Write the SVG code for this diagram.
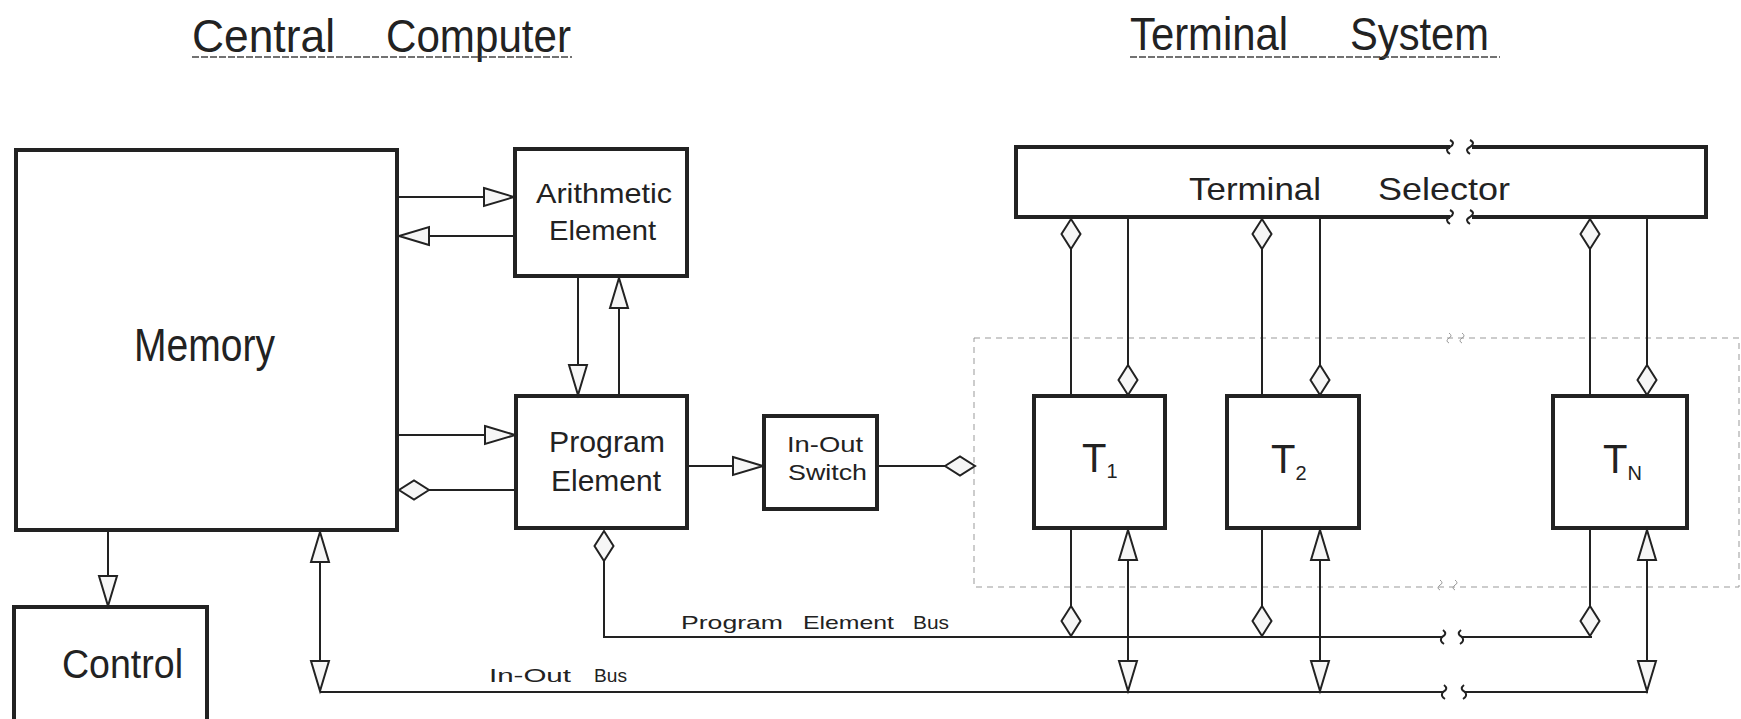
<svg xmlns="http://www.w3.org/2000/svg" width="1741" height="719" viewBox="0 0 1741 719">
<style>
.box{fill:#fff;stroke:#222;stroke-width:4}
.sel{fill:none;stroke:#222;stroke-width:4}
.ln{fill:none;stroke:#222;stroke-width:2}
.tx{font-family:"Liberation Sans",Arial,sans-serif;fill:#222}
.ul{stroke:#444;stroke-width:1.6;stroke-dasharray:7 2}
.dot{fill:none;stroke:#999;stroke-width:1;stroke-dasharray:6 5}
.brk{fill:none;stroke:#999;stroke-width:1}
.a-end{marker-end:url(#tri)}
.a-both{marker-start:url(#tri);marker-end:url(#tri)}
.d-end{marker-end:url(#dia)}
.d-start{marker-start:url(#dia)}
</style>
<defs>
<marker id="tri" markerUnits="userSpaceOnUse" viewBox="0 0 30 18" refX="30" refY="9" markerWidth="30" markerHeight="18" orient="auto-start-reverse" overflow="visible">
<path d="M0,0 L30,9 L0,18 Z" fill="#f6f6f6" stroke="#222" stroke-width="2"/>
</marker>
<marker id="dia" markerUnits="userSpaceOnUse" viewBox="0 0 30 19" refX="30" refY="9.5" markerWidth="30" markerHeight="19" orient="auto-start-reverse" overflow="visible">
<path d="M0,9.5 L15,0 L30,9.5 L15,19 Z" fill="#f6f6f6" stroke="#222" stroke-width="2"/>
</marker>
</defs>
<rect width="1741" height="719" fill="#fff"/>

<g id="titles">
<text class="tx" y="52" font-size="46"><tspan x="192" textLength="143" lengthAdjust="spacingAndGlyphs">Central</tspan><tspan x="386" textLength="185" lengthAdjust="spacingAndGlyphs">Computer</tspan></text>
<line class="ul" x1="192" y1="57" x2="572" y2="57"/>
<text class="tx" y="50" font-size="46"><tspan x="1130" textLength="158" lengthAdjust="spacingAndGlyphs">Terminal</tspan><tspan x="1350" textLength="139" lengthAdjust="spacingAndGlyphs">System</tspan></text>
<line class="ul" x1="1130" y1="57" x2="1500" y2="57"/>
</g>

<g id="terminal-area">
<rect class="dot" x="974" y="338" width="765" height="249"/>
<path class="brk" d="M1449,333 q4,3 0,5 q-4,3 0,5 M1462,333 q4,3 0,5 q-4,3 0,5"/>
<path class="brk" d="M1440,580 q4,3 0,5 q-4,3 0,5 M1455,580 q4,3 0,5 q-4,3 0,5"/>
</g>

<g id="memory">
<rect class="box" x="16" y="150" width="381" height="380"/>
<text class="tx" x="134" y="361" font-size="46" textLength="141" lengthAdjust="spacingAndGlyphs">Memory</text>
</g>

<g id="arithmetic">
<rect class="box" x="515" y="149" width="172" height="127"/>
<text class="tx" x="536" y="203" font-size="28" textLength="136" lengthAdjust="spacingAndGlyphs">Arithmetic</text>
<text class="tx" x="549" y="240" font-size="28" textLength="107" lengthAdjust="spacingAndGlyphs">Element</text>
</g>

<g id="program">
<rect class="box" x="516" y="396" width="171" height="132"/>
<text class="tx" x="549" y="452" font-size="30" textLength="116" lengthAdjust="spacingAndGlyphs">Program</text>
<text class="tx" x="551" y="491" font-size="30" textLength="110" lengthAdjust="spacingAndGlyphs">Element</text>
</g>

<g id="control">
<rect class="box" x="14" y="607" width="193" height="116"/>
<text class="tx" x="62" y="678" font-size="40" textLength="121" lengthAdjust="spacingAndGlyphs">Control</text>
</g>

<g id="inout-switch">
<rect class="box" x="764" y="416" width="113" height="93"/>
<text class="tx" x="787" y="452" font-size="22" textLength="76" lengthAdjust="spacingAndGlyphs">In-Out</text>
<text class="tx" x="788" y="480" font-size="22" textLength="79" lengthAdjust="spacingAndGlyphs">Switch</text>
</g>

<g id="terminal-selector">
<path class="sel" d="M1450,147 H1016 V217 H1450 M1472,147 H1706 V217 H1472"/>
<path class="ln" d="M1450,140 q6,3 0,7 q-6,3 0,7 M1470,140 q6,3 0,7 q-6,3 0,7 M1450,210 q6,3 0,7 q-6,3 0,7 M1470,210 q6,3 0,7 q-6,3 0,7"/>
<text class="tx" y="200" font-size="32"><tspan x="1189" textLength="132" lengthAdjust="spacingAndGlyphs">Terminal</tspan><tspan x="1378" textLength="132" lengthAdjust="spacingAndGlyphs">Selector</tspan></text>
</g>

<g id="t1">
<rect class="box" x="1034" y="396" width="131" height="132"/>
<text class="tx" x="1082" y="472" font-size="40">T<tspan font-size="20" dy="6">1</tspan></text>
</g>
<g id="t2">
<rect class="box" x="1227" y="396" width="132" height="132"/>
<text class="tx" x="1271" y="473" font-size="40">T<tspan font-size="20" dy="7">2</tspan></text>
</g>
<g id="tn">
<rect class="box" x="1553" y="396" width="134" height="132"/>
<text class="tx" x="1603" y="473" font-size="40">T<tspan font-size="20" dy="7">N</tspan></text>
</g>

<g id="connectors">
<line class="ln a-end" x1="397" y1="197" x2="514" y2="197"/>
<line class="ln a-end" x1="514" y1="236" x2="399" y2="236"/>
<line class="ln a-end" x1="578" y1="277" x2="578" y2="395"/>
<line class="ln a-end" x1="619" y1="395" x2="619" y2="278"/>
<line class="ln a-end" x1="398" y1="435" x2="515" y2="435"/>
<line class="ln d-end" x1="515" y1="490" x2="399" y2="490"/>
<line class="ln a-end" x1="687" y1="466" x2="763" y2="466"/>
<line class="ln d-end" x1="878" y1="466" x2="975" y2="466"/>
<line class="ln a-end" x1="108" y1="531" x2="108" y2="606"/>
<line class="ln a-both" x1="320" y1="532" x2="320" y2="691"/>

<path class="ln d-start" d="M604,531 V637 H1442"/>
<path class="ln" d="M1442,637 q6,-3 1,-7 M1442,637 q-3,4 2,7 M1462,637 q-6,-3 -1,-7 M1462,637 q3,4 -2,7"/>
<path class="ln" d="M1462,637 H1592"/>
<text class="tx" y="629" font-size="19"><tspan x="681" textLength="102" lengthAdjust="spacingAndGlyphs">Program</tspan><tspan x="803" textLength="91" lengthAdjust="spacingAndGlyphs">Element</tspan><tspan x="913" textLength="36" lengthAdjust="spacingAndGlyphs">Bus</tspan></text>

<path class="ln" d="M320,692 H1443 M1465,692 H1648"/>
<path class="ln" d="M1443,692 q6,-3 1,-7 M1443,692 q-3,4 2,7 M1465,692 q-6,-3 -1,-7 M1465,692 q3,4 -2,7"/>
<text class="tx" y="682" font-size="19"><tspan x="489" textLength="82" lengthAdjust="spacingAndGlyphs">In-Out</tspan><tspan x="594" textLength="33" lengthAdjust="spacingAndGlyphs">Bus</tspan></text>

<line class="ln d-start" x1="1071" y1="219" x2="1071" y2="396"/>
<line class="ln d-end" x1="1128" y1="219" x2="1128" y2="395"/>
<line class="ln d-end" x1="1071" y1="529" x2="1071" y2="636"/>
<line class="ln a-both" x1="1128" y1="530" x2="1128" y2="691"/>

<line class="ln d-start" x1="1262" y1="219" x2="1262" y2="396"/>
<line class="ln d-end" x1="1320" y1="219" x2="1320" y2="395"/>
<line class="ln d-end" x1="1262" y1="529" x2="1262" y2="636"/>
<line class="ln a-both" x1="1320" y1="530" x2="1320" y2="691"/>

<line class="ln d-start" x1="1590" y1="219" x2="1590" y2="396"/>
<line class="ln d-end" x1="1647" y1="219" x2="1647" y2="395"/>
<line class="ln d-end" x1="1590" y1="529" x2="1590" y2="636"/>
<line class="ln a-both" x1="1647" y1="530" x2="1647" y2="691"/>
</g>
</svg>
